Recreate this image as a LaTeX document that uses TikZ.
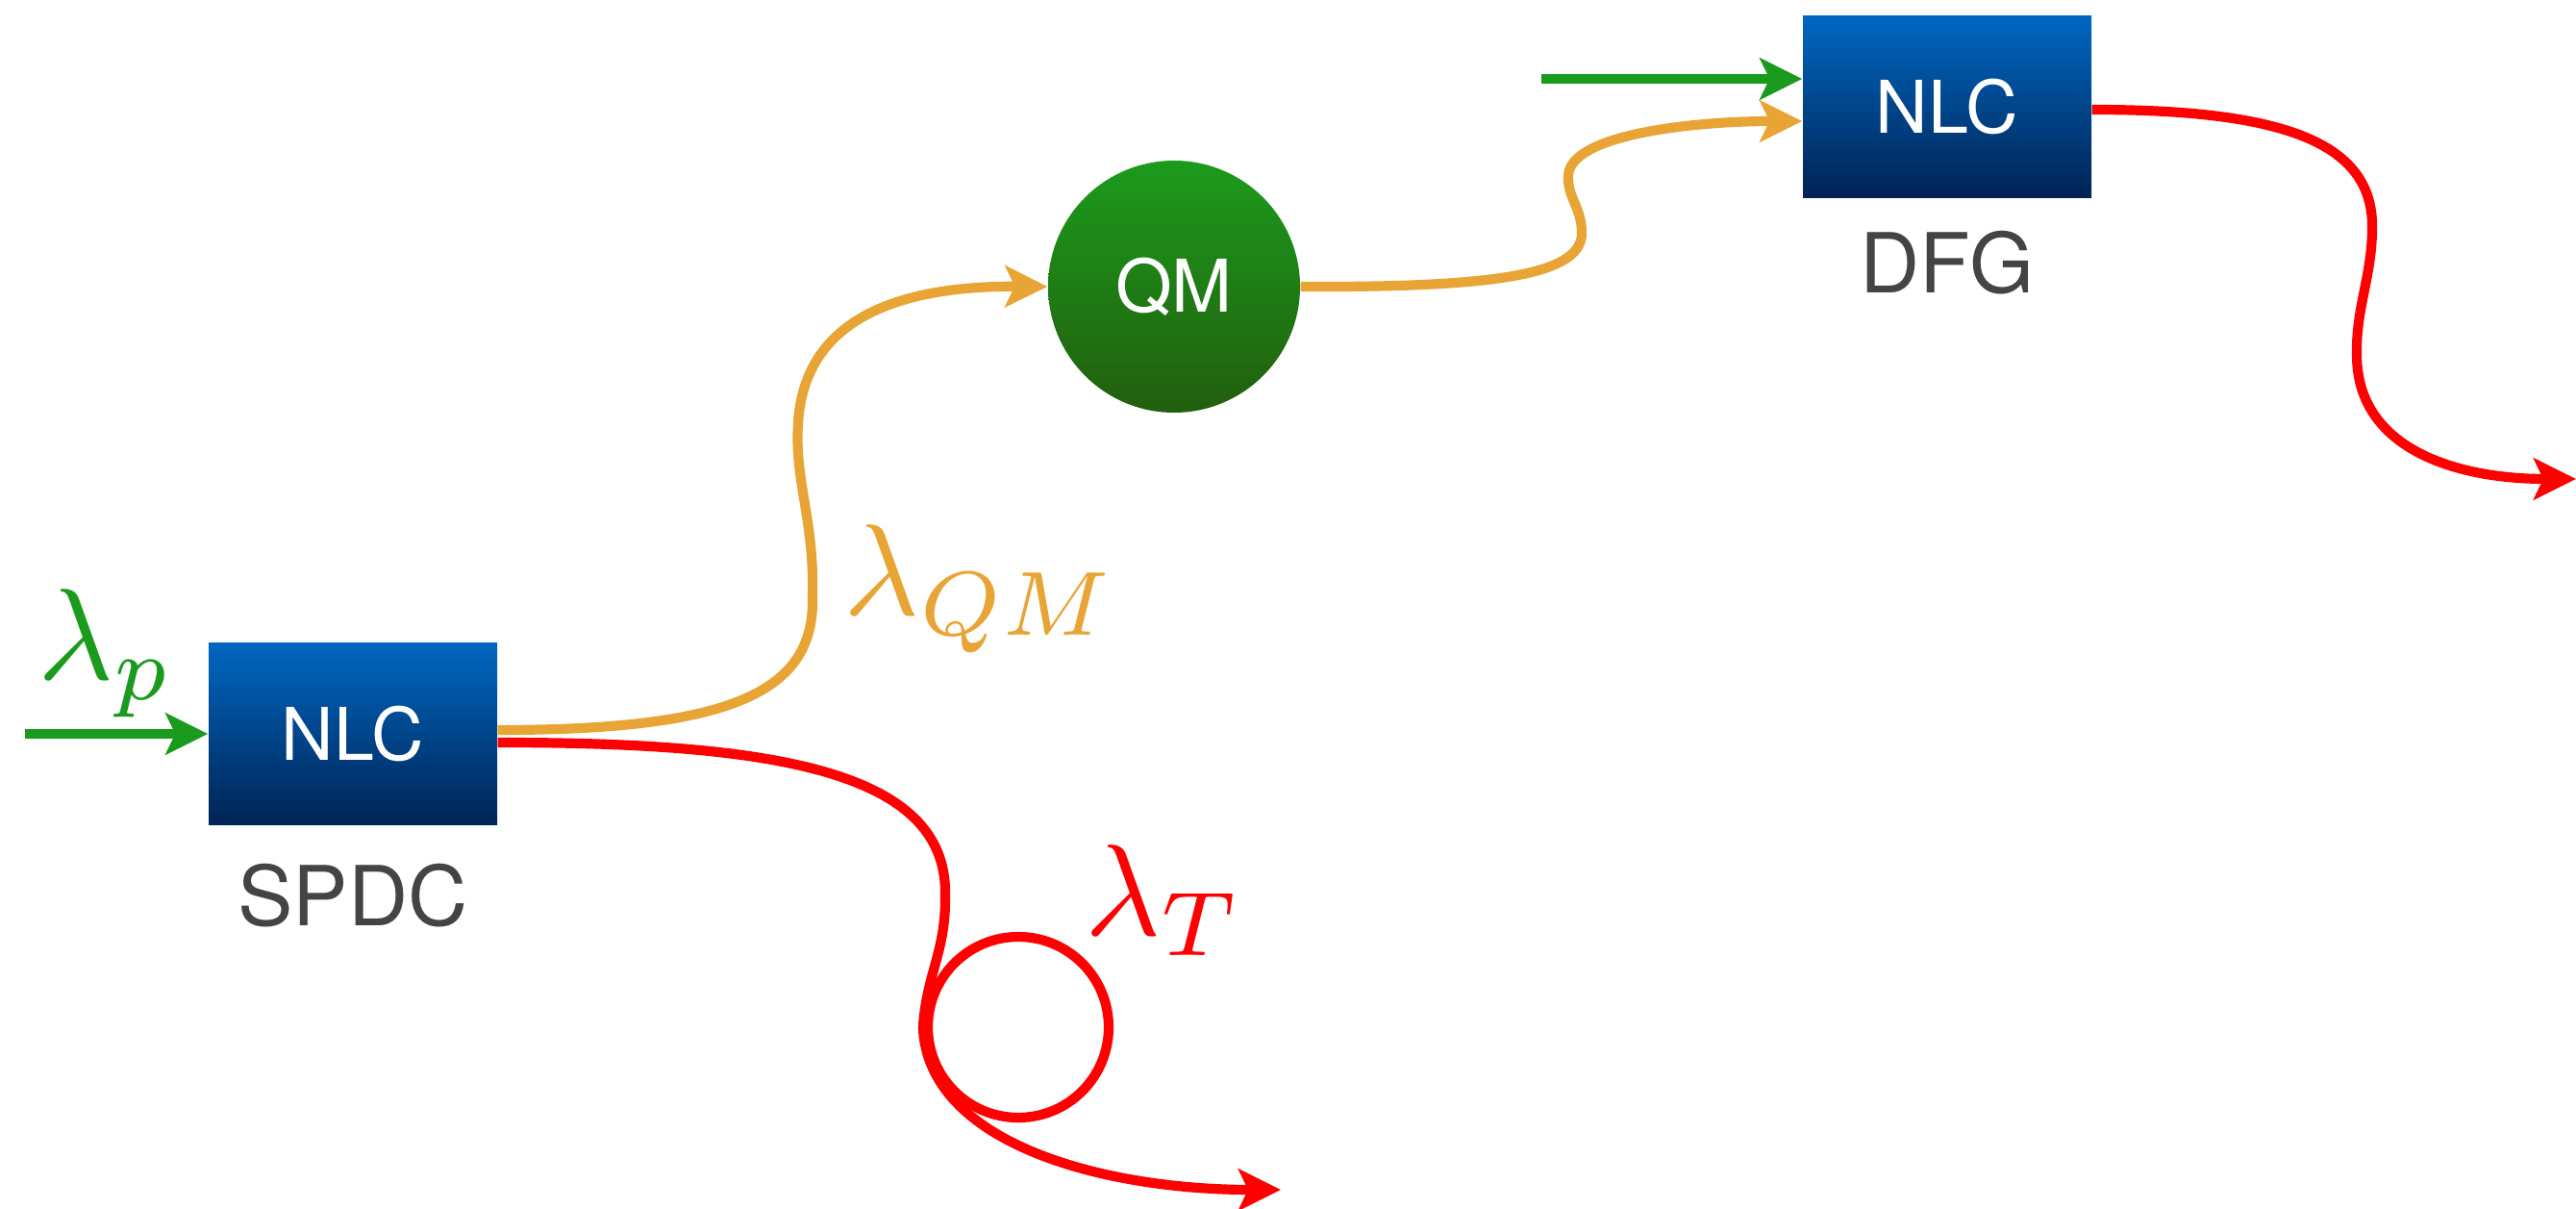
\documentclass[tikz,border=0pt]{standalone}
\usepackage{fontspec}
\setsansfont{TeX Gyre Heros}
\usetikzlibrary{arrows.meta,positioning,calc}
\definecolor{pumpgreen}{RGB}{26,155,30}
\definecolor{qmorange}{RGB}{232,164,53}
\definecolor{nlctop}{RGB}{0,103,193}
\definecolor{nlcbot}{RGB}{0,35,84}
\definecolor{qmtop}{RGB}{28,155,28}
\definecolor{qmbot}{RGB}{34,94,14}
\definecolor{lblgray}{RGB}{68,68,68}

\begin{document}
\begin{tikzpicture}[
  nlc/.style={rectangle,top color=nlctop,bottom color=nlcbot,minimum width=3cm,minimum height=1.89cm,inner sep=0pt,text=white,font=\sffamily\fontsize{21.5}{26}\selectfont},
  mem/.style={circle,top color=qmtop,bottom color=qmbot,minimum size=2.62cm,inner sep=0pt,text=white,font=\sffamily\fontsize{21.5}{26}\selectfont},
  tag/.style={inner sep=0pt,text=lblgray,font=\sffamily\fontsize{24.5}{28}\selectfont},
  wl/.style={inner sep=0pt,anchor=base west,scale=3.85},
  beam/.style={line width=2.9pt,-{Stealth[length=4.4mm,width=4.3mm,inset=1mm]}}
]
\useasboundingbox (0,0) rectangle (26.79,-12.57);

\node[nlc] (spdc) at (3.67,-7.63) {NLC};
\node[tag,below=0.39cm of spdc] (spdclbl) {SPDC};
\node[mem] (qm) at (12.21,-2.98) {QM};
\node[nlc] (dfg) at (20.25,-1.11) {NLC};
\node[tag,below=0.33cm of dfg] (dfglbl) {DFG};
\node[circle,draw=red,line width=2.9pt,minimum size=1.88cm,inner sep=0pt] (loop) at (10.59,-10.68) {};

\coordinate (pin1) at (0.26,-7.63);
\coordinate (pin2) at (16.03,-0.82);
\coordinate (tout) at (13.32,-12.37);
\coordinate (dout) at (26.79,-4.98);

\draw[beam,pumpgreen] (pin1) -- (spdc.west);
\draw[beam,pumpgreen] (pin2) -- (pin2 -| dfg.west);

\draw[beam,qmorange] ($(spdc.east)+(0,0.04)$) .. controls (7.60,-7.59) and (8.48,-7.20) .. (8.45,-6.20)
  .. controls (8.47,-5.40) and (8.26,-5.00) .. (8.30,-4.40)
  .. controls (8.36,-3.40) and (9.20,-2.97) .. (qm.west);
\draw[beam,red] ($(spdc.east)+(0,-0.09)$) .. controls (8.00,-7.72) and (9.85,-8.00) .. (9.83,-9.30)
  .. controls (9.84,-9.90) and (9.64,-10.10) .. (loop.west)
  .. controls (9.65,-11.90) and (11.50,-12.37) .. (tout);

\draw[beam,qmorange] (qm.east) .. controls (15.60,-2.99) and (16.48,-2.85) .. (16.45,-2.40)
  .. controls (16.44,-2.15) and (16.30,-2.05) .. (16.31,-1.83)
  .. controls (16.32,-1.40) and (17.60,-1.26) .. ($(dfg.west)+(0,-0.15)$);
\draw[beam,red] ($(dfg.east)+(0,-0.03)$) .. controls (23.80,-1.14) and (24.70,-1.50) .. (24.67,-2.40)
  .. controls (24.66,-2.90) and (24.50,-3.20) .. (24.51,-3.70)
  .. controls (24.52,-4.70) and (25.60,-4.98) .. (dout);

\node[wl,text=pumpgreen] (lp) at (0.37,-7.07) {$\lambda_p$};
\node[wl,text=qmorange] (lqm) at (8.75,-6.40) {$\lambda_{QM}$};
\node[wl,text=red] (lt) at (11.26,-9.73) {$\lambda_T$};
\end{tikzpicture}
\end{document}
